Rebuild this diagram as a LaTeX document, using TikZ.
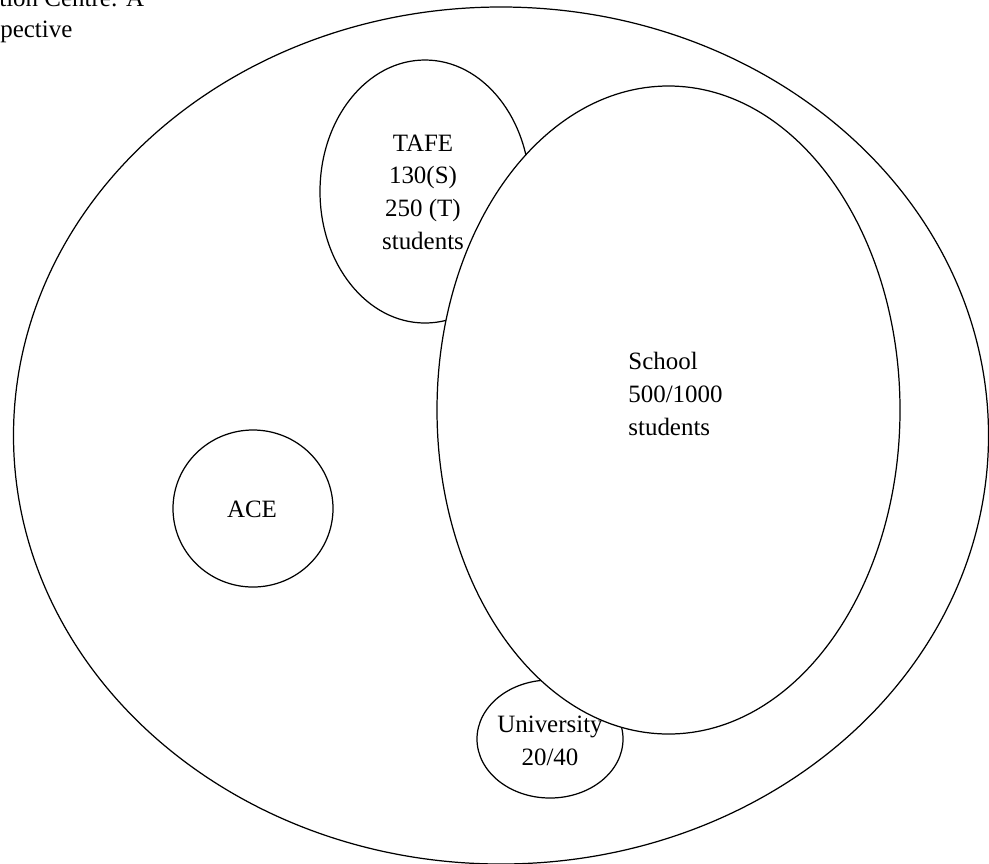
\documentclass[tikz,border=0pt]{standalone}
\usepackage{fontspec}
\setmainfont{Liberation Serif}
\usetikzlibrary{calc}
\tikzset{label text/.style={inner sep=0pt, font=\fontsize{14.2pt}{18.6pt}\selectfont}}

\begin{document}
\begin{tikzpicture}[x=0.02cm, y=-0.02cm]
		%%%%% START %%%%%
		\useasboundingbox (0, 0) rectangle (989, 863);
		
		\draw[line width=0.7pt] (501, 435.5) ellipse (487.5 and 428.5);
		
		\node[label text, anchor=base west] (title) at (-1, 6) {tion Centre: A};
		\node[label text, anchor=base west] (subtitle) at (0, 37) {pective};
		
		\draw[line width=0.7pt] (253, 508.5) ellipse (80 and 78.5);
		\node[label text] (ace) at (252, 509) {ACE};
		
		\draw[line width=0.7pt] (425, 191.5) ellipse (105 and 131.5);
		\node[label text, align=center] (tafe) at (423, 192) {TAFE\\130(S)\\250 (T)\\students};
		
		\draw[line width=0.7pt] (550, 739) ellipse (73 and 59);
		\node[label text, align=center] (uni) at (550, 741) {University\\20/40};
		
		\draw[line width=0.7pt, fill=white] (668.5, 410) ellipse (231.5 and 324);
		\node[label text, align=left] (school) at (675.5, 394) {School\\500/1000\\students};
		
		%%%%% END %%%%%
	\end{tikzpicture}
\end{document}
